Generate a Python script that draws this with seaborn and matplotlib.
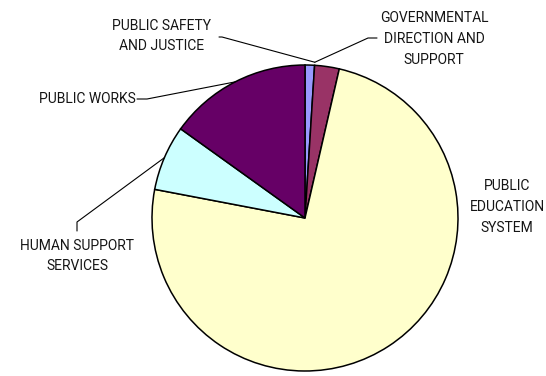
import numpy as np
import matplotlib
matplotlib.use("Agg")
import matplotlib.pyplot as plt
import seaborn as sns

# Budget share by program area (percent)
categories = [
    "PUBLIC SAFETY\nAND JUSTICE",
    "GOVERNMENTAL\nDIRECTION AND\nSUPPORT",
    "PUBLIC\nEDUCATION\nSYSTEM",
    "HUMAN SUPPORT\nSERVICES",
    "PUBLIC WORKS",
]
shares = [1.0, 2.6, 74.4, 6.9, 15.1]
colors = ["#9999FF", "#993366", "#FFFFCC", "#CCFFFF", "#660066"]

sns.set_theme(style="white")
plt.rcParams["font.family"] = ["Roboto", "DejaVu Sans"]

W, H = 546, 376
fig = plt.figure(figsize=(W / 100, H / 100), dpi=100)
fig.patch.set_facecolor("white")

cx, cy, r = 305, 218, 153  # pie centre and radius in pixels
ax = fig.add_axes([(cx - r) / W, (H - cy - r) / H, 2 * r / W, 2 * r / H])
ax.axis("off")

wedges, _ = ax.pie(
    shares, colors=colors, startangle=90, counterclock=False, radius=1,
    wedgeprops=dict(edgecolor="black", linewidth=1.1),
)
ax.set_xlim(-1, 1)
ax.set_ylim(-1, 1)


def px(x, y):
    """pixel position -> data coordinates of the pie axes"""
    return ((x - cx) / r, (cy - y) / r)


def edge(theta_deg, rad=1.0):
    t = np.deg2rad(theta_deg)
    return (rad * np.cos(t), rad * np.sin(t))


mids = [(w.theta1 + w.theta2) / 2 for w in wedges]
fs = 10
ls = 1.6
tc = "#151515"
lc = "black"
lw = 0.8

# Public safety and governmental share a leader tip at their common edge
shared_tip = edge(wedges[0].theta1, 1.02)

# PUBLIC SAFETY AND JUSTICE
ax.text(*px(162, 36), categories[0], ha="center", va="center", fontsize=fs,
        color=tc, linespacing=ls)
p0, p1 = px(219, 37), px(222, 37)
ax.plot([p0[0], p1[0], shared_tip[0]], [p0[1], p1[1], shared_tip[1]],
        color=lc, lw=lw, clip_on=False)

# GOVERNMENTAL DIRECTION AND SUPPORT
ax.text(*px(434, 39), categories[1], ha="center", va="center", fontsize=fs,
        color=tc, linespacing=ls)
p0, p1 = px(377, 38), px(368, 38)
ax.plot([p0[0], p1[0], shared_tip[0]], [p0[1], p1[1], shared_tip[1]],
        color=lc, lw=lw, clip_on=False)

# PUBLIC EDUCATION SYSTEM
ax.text(*px(507, 207), categories[2], ha="center", va="center", fontsize=fs,
        color=tc, linespacing=ls)

# HUMAN SUPPORT SERVICES
ax.text(*px(77, 256), categories[3], ha="center", va="center", fontsize=fs,
        color=tc, linespacing=ls)
tip = edge(mids[3], 1.0)
p0, p1 = px(77, 231), px(77, 222)
ax.plot([p0[0], p1[0], tip[0]], [p0[1], p1[1], tip[1]],
        color=lc, lw=lw, clip_on=False)

# PUBLIC WORKS
ax.text(*px(136, 99), categories[4], ha="right", va="center", fontsize=fs,
        color=tc)
tip = edge(mids[4], 1.0)
p0, p1 = px(137, 99), px(147, 99)
ax.plot([p0[0], p1[0], tip[0]], [p0[1], p1[1], tip[1]],
        color=lc, lw=lw, clip_on=False)

fig.savefig("out.png", dpi=100, facecolor="white")
